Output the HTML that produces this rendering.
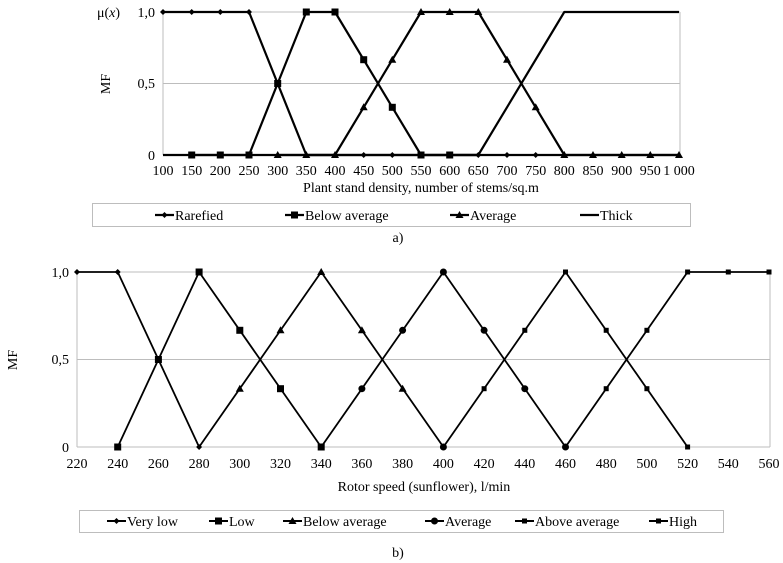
<!DOCTYPE html>
<html><head><meta charset="utf-8"><style>
html,body{margin:0;padding:0;background:#fff;}
svg{display:block;font-family:"Liberation Serif",serif;}
</style></head><body>
<svg width="783" height="563" viewBox="0 0 783 563" xmlns="http://www.w3.org/2000/svg">
<defs>
<path id="d" d="M0,-3 L3,0 L0,3 L-3,0Z" fill="#000"/>
<rect id="s" x="-3.5" y="-3.5" width="7" height="7" fill="#000"/>
<rect id="ss" x="-2.5" y="-2.5" width="5" height="5" fill="#000"/>
<path id="t" d="M0,-4 L4,3 L-4,3Z" fill="#000"/>
<circle id="c" r="3.5" fill="#000"/>
</defs>
<g stroke="#bdbdbd" stroke-width="1" fill="none">
<line x1="163" y1="12" x2="680" y2="12"/>
<line x1="163" y1="83.5" x2="680" y2="83.5"/>
<line x1="163" y1="12" x2="163" y2="155"/>
<line x1="680" y1="12" x2="680" y2="155"/>
</g>
<g fill="none" stroke="#000" stroke-width="2.2" stroke-linejoin="round">
<polyline points="163,12 249,12 306.3,155 679,155"/>
<polyline points="191.7,155 249,155 306.3,12 335,12 421,155 478.3,155"/>
<polyline points="277.7,155 335,155 421,12 478.3,12 564.3,155 679,155"/>
<polyline points="163,155 478.3,155 564.3,12 679,12"/>
</g>
<g>
<use href="#d" x="163" y="12"/><use href="#d" x="191.7" y="12"/><use href="#d" x="220.3" y="12"/><use href="#d" x="249" y="12"/>
<use href="#d" x="363.7" y="155"/><use href="#d" x="392.3" y="155"/><use href="#d" x="507" y="155"/><use href="#d" x="535.7" y="155"/><use href="#d" x="478.3" y="155"/>
<use href="#s" x="191.7" y="155"/><use href="#s" x="220.3" y="155"/><use href="#s" x="249" y="155"/><use href="#s" x="277.7" y="83.5"/><use href="#s" x="306.3" y="12"/><use href="#s" x="335" y="12"/><use href="#s" x="363.7" y="59.7"/><use href="#s" x="392.3" y="107.3"/><use href="#s" x="421" y="155"/><use href="#s" x="449.7" y="155"/>
<use href="#t" x="277.7" y="155"/><use href="#t" x="306.3" y="155"/><use href="#t" x="335" y="155"/><use href="#t" x="363.7" y="107.3"/><use href="#t" x="392.3" y="59.7"/><use href="#t" x="421" y="12"/><use href="#t" x="449.7" y="12"/><use href="#t" x="478.3" y="12"/><use href="#t" x="507" y="59.7"/><use href="#t" x="535.7" y="107.3"/><use href="#t" x="564.3" y="155"/><use href="#t" x="593" y="155"/><use href="#t" x="621.7" y="155"/><use href="#t" x="650.3" y="155"/><use href="#t" x="679" y="155"/>
</g>
<g font-size="14" fill="#000">
<text x="97" y="17">μ(<tspan font-style="italic">x</tspan>)</text>
<text x="155" y="17" text-anchor="end">1,0</text>
<text x="155" y="88" text-anchor="end">0,5</text>
<text x="155" y="160" text-anchor="end">0</text>
<text transform="translate(110,84) rotate(-90)" text-anchor="middle">MF</text>
<g text-anchor="middle">
<text x="163" y="175">100</text><text x="191.7" y="175">150</text><text x="220.3" y="175">200</text><text x="249" y="175">250</text><text x="277.7" y="175">300</text><text x="306.3" y="175">350</text><text x="335" y="175">400</text><text x="363.7" y="175">450</text><text x="392.3" y="175">500</text><text x="421" y="175">550</text><text x="449.7" y="175">600</text><text x="478.3" y="175">650</text><text x="507" y="175">700</text><text x="535.7" y="175">750</text><text x="564.3" y="175">800</text><text x="593" y="175">850</text><text x="621.7" y="175">900</text><text x="650.3" y="175">950</text><text x="679" y="175">1 000</text>
<text x="421" y="192">Plant stand density, number of stems/sq.m</text>
<text x="398" y="242">a)</text>
</g>
</g>
<rect x="92.5" y="203.5" width="598" height="23" fill="none" stroke="#bdbdbd"/>
<g stroke="#000" stroke-width="2.2">
<line x1="155" y1="215" x2="174" y2="215"/><line x1="285" y1="215" x2="304" y2="215"/><line x1="450" y1="215" x2="469" y2="215"/><line x1="580" y1="215" x2="599" y2="215"/>
</g>
<use href="#d" x="164.5" y="215"/><use href="#s" x="294.5" y="215"/><use href="#t" x="459.5" y="215"/>
<g font-size="14"><text x="175" y="220">Rarefied</text><text x="305" y="220">Below average</text><text x="470" y="220">Average</text><text x="600" y="220">Thick</text></g>

<g stroke="#bdbdbd" stroke-width="1" fill="none">
<line x1="77" y1="272" x2="770" y2="272"/>
<line x1="77" y1="359.5" x2="770" y2="359.5"/>
<line x1="77" y1="272" x2="77" y2="447"/>
<line x1="770" y1="272" x2="770" y2="447"/>
<line x1="77" y1="447" x2="770" y2="447"/>
</g>
<g fill="none" stroke="#000" stroke-width="1.8" stroke-linejoin="round">
<polyline points="77,272 117.7,272 199.1,447"/>
<polyline points="117.7,447 199.1,272 321.2,447"/>
<polyline points="199.1,447 321.2,272 443.4,447"/>
<polyline points="321.2,447 443.4,272 565.5,447"/>
<polyline points="443.4,447 565.5,272 687.6,447"/>
<polyline points="565.5,447 687.6,272 769,272"/>
</g>
<g>
<use href="#d" x="77" y="272"/><use href="#d" x="117.7" y="272"/><use href="#d" x="158.4" y="359.5"/><use href="#d" x="199.1" y="447"/>
<use href="#s" x="117.7" y="447"/><use href="#s" x="158.4" y="359.5"/><use href="#s" x="199.1" y="272"/><use href="#s" x="239.8" y="330.3"/><use href="#s" x="280.5" y="388.7"/><use href="#s" x="321.2" y="447"/>
<use href="#t" x="239.8" y="388.7"/><use href="#t" x="280.5" y="330.3"/><use href="#t" x="321.2" y="272"/><use href="#t" x="361.9" y="330.3"/><use href="#t" x="402.6" y="388.7"/>
<use href="#c" x="361.9" y="388.7"/><use href="#c" x="402.6" y="330.3"/><use href="#c" x="443.4" y="272"/><use href="#c" x="484.1" y="330.3"/><use href="#c" x="524.8" y="388.7"/><use href="#c" x="565.5" y="447"/><use href="#c" x="443.4" y="447"/>
<use href="#ss" x="484.1" y="388.7"/><use href="#ss" x="524.8" y="330.3"/><use href="#ss" x="565.5" y="272"/><use href="#ss" x="606.2" y="330.3"/><use href="#ss" x="646.9" y="388.7"/><use href="#ss" x="687.6" y="447"/>
<use href="#ss" x="606.2" y="388.7"/><use href="#ss" x="646.9" y="330.3"/><use href="#ss" x="687.6" y="272"/><use href="#ss" x="728.3" y="272"/><use href="#ss" x="769" y="272"/>
</g>
<g font-size="14" fill="#000">
<text x="69" y="277" text-anchor="end">1,0</text>
<text x="69" y="364" text-anchor="end">0,5</text>
<text x="69" y="452" text-anchor="end">0</text>
<text transform="translate(17,360) rotate(-90)" text-anchor="middle">MF</text>
<g text-anchor="middle">
<text x="77" y="468">220</text><text x="117.7" y="468">240</text><text x="158.4" y="468">260</text><text x="199.1" y="468">280</text><text x="239.8" y="468">300</text><text x="280.5" y="468">320</text><text x="321.2" y="468">340</text><text x="361.9" y="468">360</text><text x="402.6" y="468">380</text><text x="443.4" y="468">400</text><text x="484.1" y="468">420</text><text x="524.8" y="468">440</text><text x="565.5" y="468">460</text><text x="606.2" y="468">480</text><text x="646.9" y="468">500</text><text x="687.6" y="468">520</text><text x="728.3" y="468">540</text><text x="769" y="468">560</text>
<text x="424" y="491">Rotor speed (sunflower), l/min</text>
<text x="398" y="557">b)</text>
</g>
</g>
<rect x="79.5" y="510.5" width="644" height="22" fill="none" stroke="#bdbdbd"/>
<g stroke="#000" stroke-width="2">
<line x1="107" y1="521" x2="126" y2="521"/><line x1="209" y1="521" x2="228" y2="521"/><line x1="283" y1="521" x2="302" y2="521"/><line x1="425" y1="521" x2="444" y2="521"/><line x1="515" y1="521" x2="534" y2="521"/><line x1="649" y1="521" x2="668" y2="521"/>
</g>
<use href="#d" x="116.5" y="521"/><use href="#s" x="218.5" y="521"/><use href="#t" x="292.5" y="521"/><use href="#c" x="434.5" y="521"/><use href="#ss" x="524.5" y="521"/><use href="#ss" x="658.5" y="521"/>
<g font-size="14"><text x="127" y="526">Very low</text><text x="229" y="526">Low</text><text x="303" y="526">Below average</text><text x="445" y="526">Average</text><text x="535" y="526">Above average</text><text x="669" y="526">High</text></g>
</svg>
</body></html>
